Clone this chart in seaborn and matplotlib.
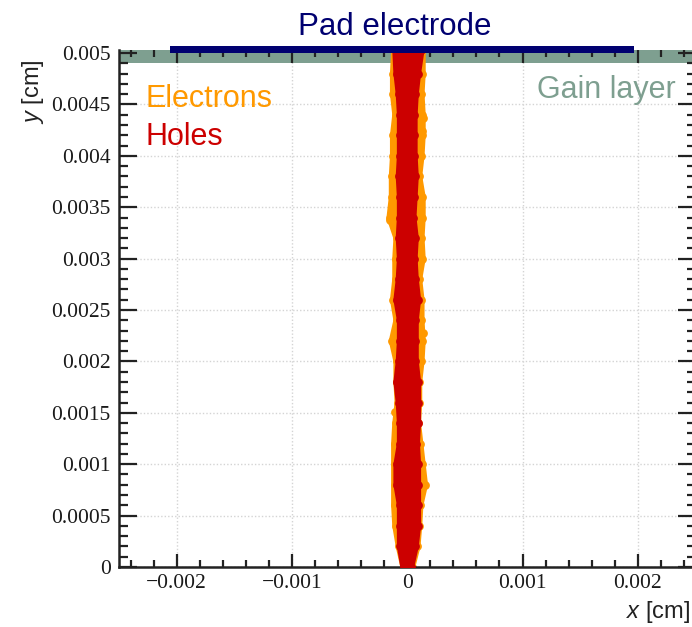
import numpy as np
import pandas as pd
import matplotlib
matplotlib.use("Agg")
import matplotlib.pyplot as plt
import seaborn as sns

# ---- data (x in micrometres, y in cm) ----
y_levels = [0.0000, 0.0002, 0.0004, 0.0006, 0.0008, 0.0010, 0.0012, 0.0014, 0.0016,
            0.0018, 0.0020, 0.0022, 0.0024, 0.0026, 0.0028, 0.0030, 0.0032, 0.0034,
            0.0036, 0.0038, 0.0040, 0.0042, 0.0044, 0.0046, 0.0048, 0.00503]
holes_left = [-0.3, -0.6, -0.6, -0.6, -0.9, -0.9, -0.6, -0.6, -0.7, -0.9, -0.7, -0.6, -0.6,
              -0.9, -0.7, -0.6, -0.7, -0.6, -0.6, -0.7, -0.6, -0.6, -0.6, -0.7, -0.9, -1.0]
holes_right = [0.3, 0.7, 0.9, 0.9, 0.9, 0.9, 0.8, 0.9, 0.9, 0.9, 0.7, 0.7, 0.7,
               0.9, 0.7, 0.6, 0.7, 0.5, 0.6, 0.7, 0.6, 0.6, 0.6, 0.7, 0.9, 1.2]
elec_left = [-0.3, -0.7, -1.0, -1.1, -1.1, -1.1, -1.1, -1.0, -0.8, -0.9, -0.9, -1.3, -0.9,
             -1.2, -1.0, -1.0, -0.9, -1.5, -1.3, -1.3, -1.2, -1.2, -1.0, -1.2, -1.2, -1.1]
elec_right = [0.4, 0.85, 1.0, 1.1, 1.5, 1.3, 1.1, 0.9, 1.0, 1.0, 1.2, 1.3, 1.2,
              1.2, 1.0, 1.3, 1.2, 1.3, 1.3, 1.0, 1.2, 1.3, 1.3, 1.2, 1.3, 1.3]
out_x = [-1.33, 1.4, 1.4, 1.4, 1.3, -1.5, -1.04]
out_y = [0.003375, 0.0008, 0.00228, 0.00437, 0.00424, 0.00338, 0.00151]

xticks = [-0.002, -0.001, 0, 0.001, 0.002]
xtick_labels = ["\u22120.002", "\u22120.001", "0", "0.001", "0.002"]
yticks = [0, 0.0005, 0.001, 0.0015, 0.002, 0.0025, 0.003, 0.0035, 0.004, 0.0045, 0.005]
ytick_labels = ["0", "0.0005", "0.001", "0.0015", "0.002", "0.0025", "0.003",
                "0.0035", "0.004", "0.0045", "0.005"]

UM = 1e-4  # micrometre in cm
ORANGE = "#ff9900"
RED = "#cc0000"
NAVY = "#000070"
GAIN = "#7e9f90"

sns.set_theme(style="ticks")
plt.rcParams["font.family"] = ["Liberation Sans", "DejaVu Sans"]
plt.rcParams["mathtext.fontset"] = "custom"
plt.rcParams["mathtext.it"] = "Liberation Sans:italic"
plt.rcParams["mathtext.rm"] = "Liberation Sans"

fig = plt.figure(figsize=(6.92, 6.27), dpi=100)
ax = fig.add_axes([119 / 692, 60 / 627, (695.5 - 119) / 692, (577 - 60) / 627])

ax.set_xlim(-0.0025, 0.0025)
ax.set_ylim(0, 0.00503)

# gain layer
ax.axhspan(0.0049, 0.00503, color=GAIN, zorder=0.5, lw=0)

# grid
for xv in xticks:
    ax.axvline(xv, color="#d4d4d4", ls=(0, (1, 1.5)), lw=1.0, zorder=0.3)
for yv in yticks:
    ax.axhline(yv, color="#d4d4d4", ls=(0, (1, 1.5)), lw=1.0, zorder=0.3)

yl = np.array(y_levels)
el = np.array(elec_left) * UM
er = np.array(elec_right) * UM
hl = np.array(holes_left) * UM
hr = np.array(holes_right) * UM

# electrons band
ax.fill_betweenx(yl, el, er, color=ORANGE, lw=0, zorder=2)
for edge in (el, er):
    ax.plot(edge, yl, color=ORANGE, lw=5, solid_joinstyle="round",
            solid_capstyle="round", zorder=2)
edges_e = pd.DataFrame({"x": np.concatenate([el, er, np.array(out_x) * UM]),
                        "y": np.concatenate([yl, yl, out_y])})
sns.scatterplot(data=edges_e, x="x", y="y", color=ORANGE, s=40, linewidth=0,
                ax=ax, zorder=2, legend=False)

# holes band
ax.fill_betweenx(yl, hl, hr, color=RED, lw=0, zorder=3)
for edge in (hl, hr):
    ax.plot(edge, yl, color=RED, lw=5, solid_joinstyle="round",
            solid_capstyle="round", zorder=3)
edges_h = pd.DataFrame({"x": np.concatenate([hl, hr]), "y": np.concatenate([yl, yl])})
sns.scatterplot(data=edges_h, x="x", y="y", color=RED, s=40, linewidth=0,
                ax=ax, zorder=3, legend=False)

# pad electrode bar
ax.fill_between([-0.00206, 0.00197], 0.005, 0.00507, color=NAVY, lw=0,
                clip_on=False, zorder=5)

# ticks
ax.set_xticks(xticks)
ax.set_xticklabels(xtick_labels)
ax.set_yticks(yticks)
ax.set_yticklabels(ytick_labels)
ax.set_xticks(np.arange(-0.0024, 0.0025, 0.0002), minor=True)
ax.set_yticks(np.arange(0.0001, 0.00501, 0.0001), minor=True)
for lab in ax.get_xticklabels() + ax.get_yticklabels():
    lab.set_family("Liberation Serif")
    lab.set_fontsize(15.5)
    lab.set_color("#1a1a1a")
ax.tick_params(axis="x", which="major", direction="in", length=9.5, width=1.6,
               top=True, bottom=True, pad=5, color="#222222")
ax.tick_params(axis="x", which="minor", direction="in", length=5, width=1.6,
               top=True, bottom=True, color="#222222")
ax.tick_params(axis="y", which="major", direction="in", length=13, width=1.6,
               left=True, right=True, pad=6, color="#222222")
ax.tick_params(axis="y", which="minor", direction="in", length=6.5, width=1.6,
               left=True, right=True, color="#222222")
for sp in ["left", "bottom"]:
    ax.spines[sp].set_linewidth(1.8)
    ax.spines[sp].set_color("#222222")
ax.spines["top"].set_visible(False)
ax.spines["right"].set_linewidth(1.8)
ax.spines["right"].set_color("#222222")
ax.set_xlabel("")
ax.set_ylabel("")

# texts
fig.text(395 / 692, 1 - 35 / 627, "Pad electrode", color=NAVY, fontsize=22.5,
         ha="center", va="baseline")
fig.text(145 / 692, 1 - 107 / 627, "Electrons", color=ORANGE, fontsize=22,
         ha="left", va="baseline")
fig.text(145 / 692, 1 - 145 / 627, "Holes", color=RED, fontsize=22,
         ha="left", va="baseline")
fig.text(676 / 692, 1 - 98 / 627, "Gain layer", color=GAIN, fontsize=22,
         ha="right", va="baseline")
fig.text(33 / 692, 1 - 92 / 627, "$y$ [cm]", color="#222222", fontsize=17,
         rotation=90, ha="center", va="center")
fig.text(690 / 692, 1 - 612 / 627, "$x$ [cm]", color="#222222", fontsize=17,
         ha="right", va="center")

fig.savefig("out.png", dpi=100)
